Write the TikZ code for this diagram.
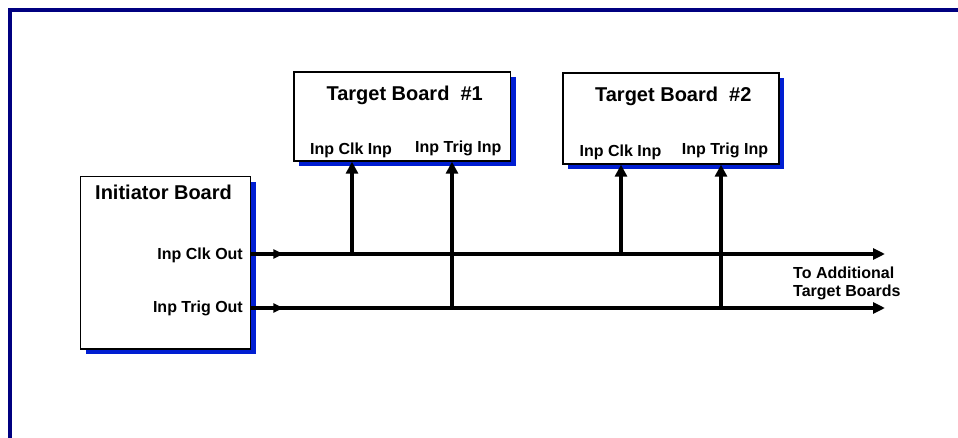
\documentclass[tikz,border=0pt]{standalone}
\usepackage{fontspec}
\setmainfont{Liberation Sans}
\usetikzlibrary{arrows.meta,shadows}
\definecolor{framenavy}{RGB}{0,0,128}
\definecolor{shadowblue}{RGB}{0,30,210}

\begin{document}
\begin{tikzpicture}[x=1pt,y=-1pt]
\tikzstyle{boardstyle}=[draw, line width=1.4pt, fill=white, inner sep=0pt, general shadow={fill=shadowblue, shadow xshift=5pt, shadow yshift=-5pt}]
\tikzstyle{titlestyle}=[inner sep=0pt, font=\bfseries\fontsize{20}{24}\selectfont]
\tikzstyle{portstyle}=[inner sep=0pt, font=\bfseries\fontsize{16}{18}\selectfont]
\tikzstyle{busstyle}=[line width=3.6pt]
    \useasboundingbox (0,0) rectangle (958,438);
    \draw[framenavy, line width=4pt] (10,438) -- (10,10) -- (958,10);
    % boards
    \node[boardstyle, minimum width=170pt, minimum height=172pt] (init) at (165.7,262.8) {};
    \node[boardstyle, minimum width=216.7pt, minimum height=89pt] (t1) at (402.3,116.5) {};
    \node[boardstyle, minimum width=216pt, minimum height=91pt] (t2) at (671,118.5) {};
    % texts
    \node[titlestyle, anchor=base west] (inittitle) at (95,200) {Initiator Board};
    \node[titlestyle, anchor=base] (t1title) at (404.7,100.7) {Target Board\ \ \#1};
    \node[titlestyle, anchor=base] (t2title) at (673.3,101.7) {Target Board\ \ \#2};
    \node[portstyle, anchor=base east] (clkout) at (243,259.5) {Inp Clk Out};
    \node[portstyle, anchor=base east] (trigout) at (243,312.5) {Inp Trig Out};
    \node[portstyle, anchor=base] (t1clkin) at (351,155) {Inp Clk Inp};
    \node[portstyle, anchor=base] (t1trigin) at (458.3,152.7) {Inp Trig Inp};
    \node[portstyle, anchor=base] (t2clkin) at (620.5,156.7) {Inp Clk Inp};
    \node[portstyle, anchor=base] (t2trigin) at (725,155) {Inp Trig Inp};
    \node[portstyle, anchor=west, align=left] (more) at (793,283) {To Additional\\ Target Boards};
    % buses
    \coordinate (clkend) at (885,254);
    \coordinate (trigend) at (885,308);
    \coordinate (t1clk) at (352,254);
    \coordinate (t1trig) at (452,308);
    \coordinate (t2clk) at (621,254);
    \coordinate (t2trig) at (721,308);
    \draw [busstyle, -{Triangle[length=12pt,width=11pt]}] (init.east |- clkend) -- (clkend);
    \draw [busstyle, -{Triangle[length=12pt,width=11pt]}] (init.east |- trigend) -- (trigend);
    \draw [busstyle, -{Triangle[length=10pt,width=9pt]}] (init.east |- clkend) -- ++(32,0);
    \draw [busstyle, -{Triangle[length=10pt,width=9pt]}] (init.east |- trigend) -- ++(32,0);
    \draw [busstyle, -{Triangle[length=12pt,width=12pt]}] (t1clk) -- (t1clk |- t1.south);
    \draw [busstyle, -{Triangle[length=12pt,width=12pt]}] (t1trig) -- (t1trig |- t1.south);
    \draw [busstyle, -{Triangle[length=12pt,width=12pt]}] (t2clk) -- (t2clk |- t2.south);
    \draw [busstyle, -{Triangle[length=12pt,width=12pt]}] (t2trig) -- (t2trig |- t2.south);
\end{tikzpicture}
\end{document}
